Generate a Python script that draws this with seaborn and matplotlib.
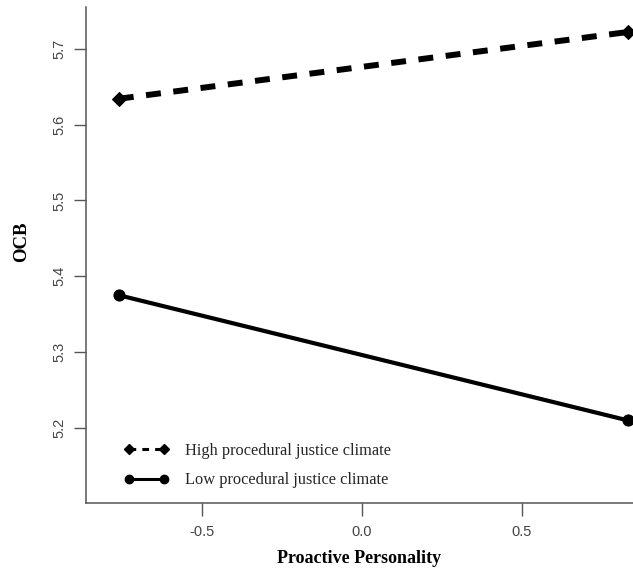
import matplotlib
matplotlib.use("Agg")
import matplotlib.pyplot as plt
from matplotlib.lines import Line2D
import seaborn as sns
import pandas as pd

# ---- data ----
x_levels = [-0.76, 0.83]
high_pjc = [5.634, 5.722]
low_pjc = [5.375, 5.210]
groups = ["High procedural justice climate", "Low procedural justice climate"]
x_ticks = [-0.5, 0.0, 0.5]
x_tick_labels = ["-0.5", "0.0", "0.5"]
y_ticks = [5.2, 5.3, 5.4, 5.5, 5.6, 5.7]
y_tick_labels = ["5.2", "5.3", "5.4", "5.5", "5.6", "5.7"]

df = pd.DataFrame({
    "x": x_levels + x_levels,
    "y": high_pjc + low_pjc,
    "group": [groups[0]] * 2 + [groups[1]] * 2,
})

sns.set_style("white")
plt.rcParams["axes.unicode_minus"] = False

fig = plt.figure(figsize=(6.33, 5.71), dpi=100)
ax = fig.add_axes([86 / 633, 1 - 503 / 571, 1 - 86 / 633, (503 - 7) / 571])

axis_gray = "#555555"
serif = ["Liberation Serif", "DejaVu Serif"]
sans = ["Liberation Sans", "DejaVu Sans"]

sns.lineplot(data=df[df.group == groups[0]], x="x", y="y", ax=ax, color="black",
             lw=4.3, marker="D", markersize=7.5, markeredgecolor="black",
             dashes=False, legend=False, linestyle=(0, (2.5, 2.1)),
             solid_capstyle="butt", dash_capstyle="butt")
sns.lineplot(data=df[df.group == groups[1]], x="x", y="y", ax=ax, color="black",
             lw=3.0, marker="o", markersize=8, markeredgecolor="black",
             legend=False)

ax.set_xlim(-0.8625, 0.847)
ax.set_ylim(5.101, 5.755)

ax.set_xticks(x_ticks)
ax.set_xticklabels(x_tick_labels, family=sans, fontsize=10.5, color="#444444")
ax.set_yticks(y_ticks)
ax.set_yticklabels(y_tick_labels, family=sans, fontsize=10.5, color="#444444",
                   rotation=90, va="center", ha="right")
ax.tick_params(axis="both", length=9, width=1, color=axis_gray, direction="out",
               left=True, bottom=True, pad=7)
ax.tick_params(axis="y", pad=5)

for s in ["top", "right"]:
    ax.spines[s].set_visible(False)
for s in ["left", "bottom"]:
    ax.spines[s].set_color(axis_gray)
    ax.spines[s].set_linewidth(1.1)

ax.set_xlabel("Proactive Personality", family=serif, fontsize=13,
              fontweight="bold", labelpad=8, color="black")
ax.set_ylabel("OCB", family=serif, fontsize=13.5, fontweight="bold",
              color="black")
ax.yaxis.set_label_coords(-0.103, 0.526)

handles = [
    Line2D([0], [0], color="black", lw=2.2, linestyle=(0, (2.2, 2.0)),
           marker="D", markersize=5, dash_capstyle="butt"),
    Line2D([0], [0], color="black", lw=2.2, marker="o", markersize=6),
]
leg = ax.legend(handles, groups, loc="lower left", bbox_to_anchor=(0.043, 0.0),
                frameon=False, numpoints=2, handlelength=2.7, handletextpad=1.0,
                labelspacing=0.8, prop={"family": serif, "size": 11.8})

fig.savefig("out.png", dpi=100)
